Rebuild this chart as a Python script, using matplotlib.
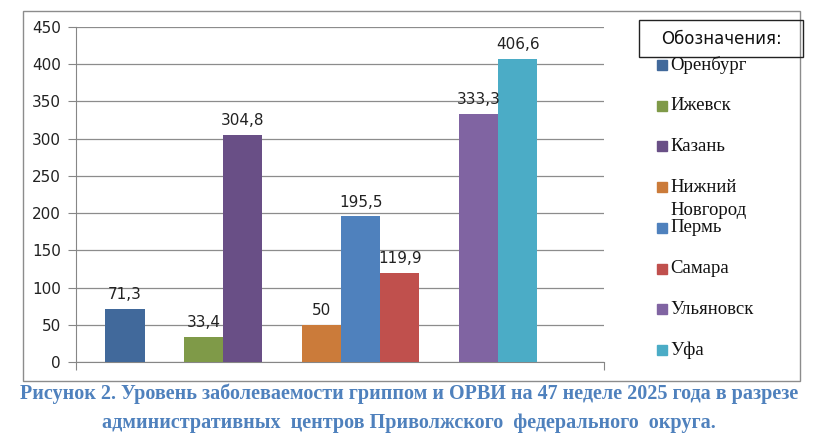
import matplotlib.pyplot as plt
from matplotlib.patches import Rectangle

# данные
cities = ["Оренбург", "Ижевск", "Казань", "Нижний\nНовгород", "Пермь",
          "Самара", "Ульяновск", "Уфа"]
values = [71.3, 33.4, 304.8, 50.0, 195.5, 119.9, 333.3, 406.6]
value_labels = ["71,3", "33,4", "304,8", "50", "195,5", "119,9", "333,3", "406,6"]
slots = [0, 2, 3, 5, 6, 7, 9, 10]
colors = ["#41699B", "#7F9A48", "#694F86", "#CB7B3A", "#4F81BD",
          "#C0504D", "#8064A2", "#4BACC6"]
yticks = [0, 50, 100, 150, 200, 250, 300, 350, 400, 450]

W, H = 818, 438
fig = plt.figure(figsize=(W / 100, H / 100), dpi=100)

def fx(px):
    return px / W

def fy(py):
    return 1 - py / H

# рамка диаграммы
fig.patches.append(Rectangle((fx(23), fy(381)), fx(800) - fx(23), fy(11) - fy(381),
                             transform=fig.transFigure, fill=False,
                             edgecolor="#8c8c8c", linewidth=1.0))

ax = fig.add_axes([fx(76), fy(362), fx(604) - fx(76), fy(27) - fy(362)])
ax.bar(slots, values, width=1.0, color=colors, zorder=3)
for x, v, lab in zip(slots, values, value_labels):
    ax.annotate(lab, (x, v), xytext=(0, 5), textcoords="offset points",
                ha="center", va="bottom", fontsize=11, family="DejaVu Sans",
                color="#222222")

ax.set_ylim(0, 450)
ax.set_yticks(yticks)
ax.set_xlim(-1.25, 12.2)
ax.set_xticks([-1.25, 12.2])
ax.set_xticklabels([])
ax.tick_params(axis="both", direction="out", length=6, color="#868686",
               labelsize=11, pad=5, labelcolor="#222222")
ax.grid(axis="y", color="#8c8c8c", linewidth=0.9, zorder=0)
for s in ["top", "right"]:
    ax.spines[s].set_visible(False)
for s in ["left", "bottom"]:
    ax.spines[s].set_color("#868686")

# легенда
fig.patches.append(Rectangle((fx(639), fy(57)), fx(803) - fx(639), fy(20) - fy(57),
                             transform=fig.transFigure, fill=False,
                             edgecolor="#222222", linewidth=1.0))
fig.text(fx(721), fy(39), "Обозначения:", ha="center", va="center",
         fontsize=12, family="DejaVu Sans", color="#111111")
for i, (name, c) in enumerate(zip(cities, colors)):
    yc = 65 + i * 40.7
    fig.patches.append(Rectangle((fx(657), fy(yc + 5)), fx(10), fy(0) - fy(10),
                                 transform=fig.transFigure, color=c))
    for k, line in enumerate(name.split("\n")):
        fig.text(fx(670), fy(yc + k * 23), line, ha="left", va="center",
                 fontsize=13.5, family="Liberation Serif", color="#111111")

# подпись
cap_color = "#4F81BD"
fig.text(0.5, fy(394), "Рисунок 2. Уровень заболеваемости гриппом и ОРВИ на 47 неделе 2025 года в разрезе",
         ha="center", va="center", fontsize=14.5, weight="bold",
         family="Liberation Serif", color=cap_color)
fig.text(0.5, fy(423), "административных  центров Приволжского  федерального  округа.",
         ha="center", va="center", fontsize=14.5, weight="bold",
         family="Liberation Serif", color=cap_color)

fig.savefig("out.png", dpi=100)
